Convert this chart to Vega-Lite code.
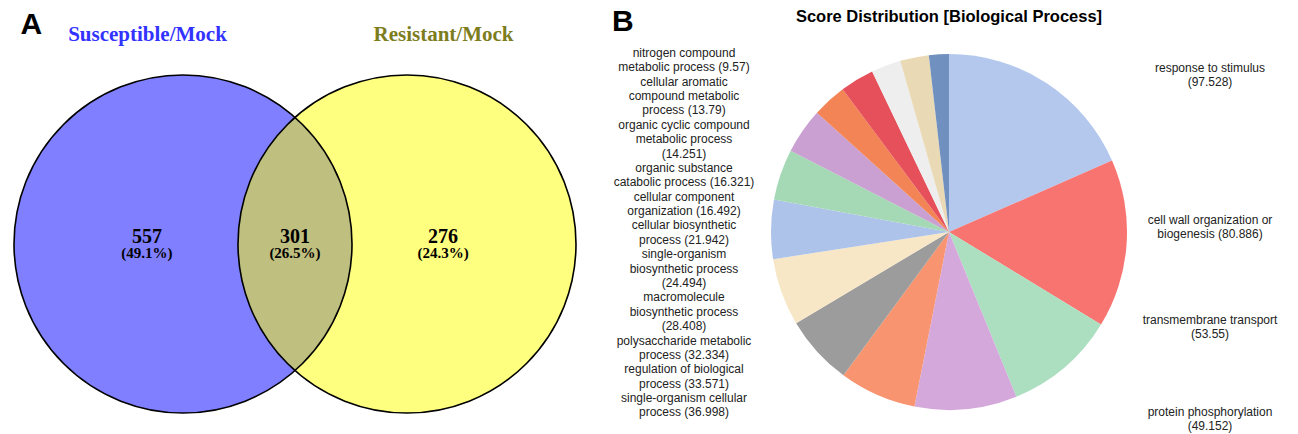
{
  "$schema": "https://vega.github.io/schema/vega-lite/v6.json",
  "padding": {"left": 0, "top": 7, "right": 0, "bottom": 0},
  "bounds": "flush",
  "spacing": 0,
  "config": {"view": {"stroke": null}, "font": "Liberation Sans"},
  "datasets": {
    "sets": [{"set": "Susceptible/Mock"}, {"set": "Resistant/Mock"}],
    "regions": [
      {"region": "Susceptible/Mock only", "genes": 557, "share": "(49.1%)"},
      {"region": "Susceptible/Mock and Resistant/Mock", "genes": 301, "share": "(26.5%)"},
      {"region": "Resistant/Mock only", "genes": 276, "share": "(24.3%)"}
    ],
    "go": [
      {"term": "response to stimulus", "score": 97.528, "caption": "response to stimulus\n(97.528)", "lines": 2},
      {"term": "cell wall organization or biogenesis", "score": 80.886, "caption": "cell wall organization or\nbiogenesis (80.886)", "lines": 2},
      {"term": "transmembrane transport", "score": 53.55, "caption": "transmembrane transport\n(53.55)", "lines": 2},
      {"term": "protein phosphorylation", "score": 49.152, "caption": "protein phosphorylation\n(49.152)", "lines": 2},
      {"term": "single-organism cellular process", "score": 36.998, "caption": "single-organism cellular\nprocess (36.998)", "lines": 2},
      {"term": "regulation of biological process", "score": 33.571, "caption": "regulation of biological\nprocess (33.571)", "lines": 2},
      {"term": "polysaccharide metabolic process", "score": 32.334, "caption": "polysaccharide metabolic\nprocess (32.334)", "lines": 2},
      {"term": "macromolecule biosynthetic process", "score": 28.408, "caption": "macromolecule\nbiosynthetic process\n(28.408)", "lines": 3},
      {"term": "single-organism biosynthetic process", "score": 24.494, "caption": "single-organism\nbiosynthetic process\n(24.494)", "lines": 3},
      {"term": "cellular biosynthetic process", "score": 21.942, "caption": "cellular biosynthetic\nprocess (21.942)", "lines": 2},
      {"term": "cellular component organization", "score": 16.492, "caption": "cellular component\norganization (16.492)", "lines": 2},
      {"term": "organic substance catabolic process", "score": 16.321, "caption": "organic substance\ncatabolic process (16.321)", "lines": 2},
      {"term": "organic cyclic compound metabolic process", "score": 14.251, "caption": "organic cyclic compound\nmetabolic process\n(14.251)", "lines": 3},
      {"term": "cellular aromatic compound metabolic process", "score": 13.79, "caption": "cellular aromatic\ncompound metabolic\nprocess (13.79)", "lines": 3},
      {"term": "nitrogen compound metabolic process", "score": 9.57, "caption": "nitrogen compound\nmetabolic process (9.57)", "lines": 2}
    ]
  },
  "hconcat": [
    {
      "width": 590,
      "height": 408,
      "resolve": {"scale": {"x": "independent"}, "axis": {"x": "independent"}},
      "layer": [
        {
          "data": {"name": "sets"},
          "mark": {"type": "point", "shape": "circle", "filled": true, "size": 114244, "fillOpacity": 0.5, "strokeWidth": 0},
          "encoding": {
            "x": {"field": "set", "type": "nominal", "sort": null, "scale": {"type": "point", "domain": ["Susceptible/Mock", "Resistant/Mock"], "padding": 0.817}, "axis": null},
            "fill": {"field": "set", "type": "nominal", "scale": {"domain": ["Susceptible/Mock", "Resistant/Mock"], "range": ["#0000ff", "#ffff00"]}, "legend": null}
          }
        },
        {
          "data": {"name": "sets"},
          "mark": {"type": "point", "shape": "circle", "filled": false, "size": 114244, "stroke": "black", "strokeWidth": 1.6, "opacity": 1},
          "encoding": {
            "x": {"field": "set", "type": "nominal", "sort": null, "scale": {"type": "point", "domain": ["Susceptible/Mock", "Resistant/Mock"], "padding": 0.817}, "axis": null}
          }
        },
        {
          "data": {"name": "regions"},
          "mark": {"type": "text", "font": "Liberation Serif", "fontWeight": "bold", "fontSize": 20, "dy": -7, "color": "black"},
          "encoding": {
            "x": {"field": "region", "type": "nominal", "sort": null, "scale": {"type": "point", "domain": ["Susceptible/Mock only", "Susceptible/Mock and Resistant/Mock", "Resistant/Mock only"], "padding": 0.993},
              "axis": {"orient": "top", "domain": false, "ticks": false, "labelAngle": 0, "labelFont": "Liberation Serif", "labelFontWeight": "bold", "labelFontSize": 21, "labelPadding": 0, "labelBaseline": "alphabetic", "labelOverlap": false, "labelLimit": 0,
                "labelExpr": "datum.value == 'Susceptible/Mock only' ? 'Susceptible/Mock' : datum.value == 'Resistant/Mock only' ? 'Resistant/Mock' : ''",
                "labelColor": {"condition": {"test": "datum.value == 'Susceptible/Mock only'", "value": "#3333ff"}, "value": "#7d7d1e"},
                "title": "A", "titleFont": "Liberation Sans", "titleFontSize": 30, "titleFontWeight": "bold", "titleColor": "black", "titleAnchor": null, "titleAlign": "left", "titleBaseline": "alphabetic", "titleX": 20, "titleY": -7}},
            "text": {"field": "genes", "type": "quantitative", "format": "d"}
          }
        },
        {
          "data": {"name": "regions"},
          "mark": {"type": "text", "font": "Liberation Serif", "fontWeight": "bold", "fontSize": 15, "dy": 9, "color": "black"},
          "encoding": {
            "x": {"field": "region", "type": "nominal", "sort": null, "scale": {"type": "point", "domain": ["Susceptible/Mock only", "Susceptible/Mock and Resistant/Mock", "Resistant/Mock only"], "padding": 0.993}, "axis": null},
            "text": {"field": "share", "type": "nominal"}
          }
        }
      ]
    },
    {
      "width": 188,
      "height": 384,
      "title": {"text": "B", "anchor": "start", "frame": "group", "dx": 22, "offset": 3, "fontSize": 30, "fontWeight": "bold", "font": "Liberation Sans", "color": "black"},
      "data": {"name": "go"},
      "transform": [{"filter": "datum.score < 45"}],
      "mark": {"type": "text", "lineBreak": "\n", "fontSize": 12, "lineHeight": 14.4, "color": "#222222", "align": "center", "baseline": "top", "font": "Liberation Sans"},
      "encoding": {
        "y": {"field": "lines", "type": "quantitative", "stack": "zero", "scale": {"domain": [-0.15, 26.55], "nice": false, "zero": false}, "axis": null},
        "order": {"field": "score", "sort": "descending"},
        "detail": {"field": "term", "type": "nominal"},
        "text": {"field": "caption", "type": "nominal"}
      }
    },
    {
      "width": 342,
      "height": 384,
      "title": {"text": "Score Distribution [Biological Process]", "anchor": "middle", "frame": "group", "offset": 15, "fontSize": 16.5, "fontWeight": "bold", "font": "Liberation Sans", "color": "black"},
      "data": {"name": "go"},
      "mark": {"type": "arc", "radius": 178},
      "encoding": {
        "theta": {"field": "score", "type": "quantitative", "stack": true},
        "order": {"field": "score", "sort": "descending"},
        "color": {"field": "term", "type": "nominal",
          "scale": {
            "domain": ["response to stimulus", "cell wall organization or biogenesis", "transmembrane transport", "protein phosphorylation", "single-organism cellular process", "regulation of biological process", "polysaccharide metabolic process", "macromolecule biosynthetic process", "single-organism biosynthetic process", "cellular biosynthetic process", "cellular component organization", "organic substance catabolic process", "organic cyclic compound metabolic process", "cellular aromatic compound metabolic process", "nitrogen compound metabolic process"],
            "range": ["#b4c8ee", "#f87470", "#abdfc0", "#d5a8dc", "#f89470", "#9c9c9c", "#f7e7c6", "#aec3ea", "#a5d9b5", "#c9a0d1", "#f28456", "#e5505a", "#eeeeee", "#ead9b5", "#7090c0"]
          },
          "legend": null}
      }
    },
    {
      "width": 180,
      "height": 384,
      "data": {"name": "go"},
      "transform": [{"filter": "datum.score >= 45"}],
      "mark": {"type": "text", "lineBreak": "\n", "fontSize": 12, "lineHeight": 14.4, "color": "#222222", "align": "center", "baseline": "middle", "font": "Liberation Sans"},
      "encoding": {
        "y": {"field": "score", "type": "quantitative", "stack": "zero", "scale": {"domain": [82.584, 287.53], "reverse": true, "nice": false, "zero": false}, "axis": null},
        "order": {"field": "score", "sort": "descending"},
        "detail": {"field": "term", "type": "nominal"},
        "text": {"field": "caption", "type": "nominal"}
      }
    }
  ]
}
